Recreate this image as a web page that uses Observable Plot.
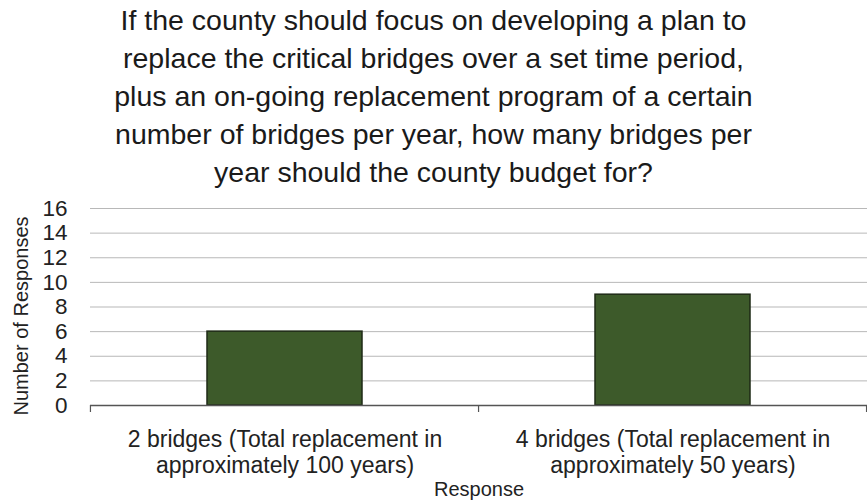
<!DOCTYPE html>
<html><head><meta charset="utf-8">
<script src="https://cdn.jsdelivr.net/npm/d3@7"></script>
<script src="https://cdn.jsdelivr.net/npm/@observablehq/plot@0.6"></script>
<style>
body{margin:0;background:#fff;font-family:"Liberation Sans",Arial,sans-serif;}
#title{width:867px;height:195px;box-sizing:border-box;padding-top:1px;text-align:center;font-size:28.5px;line-height:38px;color:#1a1a1a;}
</style></head><body>
<div id="title">If the county should focus on developing a plan to<br>replace the critical bridges over a set time period,<br>plus an on-going replacement program of a certain<br>number of bridges per year, how many bridges per<br>year should the county budget for?</div>
<div id="chart"></div>
<script>
const categories = ["2 bridges (Total replacement in\napproximately 100 years)", "4 bridges (Total replacement in\napproximately 50 years)"];
const responses = [6, 9];
const yTicks = [0, 2, 4, 6, 8, 10, 12, 14, 16];
const yLabel = "Number of Responses";
const xLabel = "Response";

const data = categories.map((c, i) => ({category: c, value: responses[i]}));

function boundaryTicks(index, scales, values, dimensions) {
  const x = scales.x;
  const step = (dimensions.width - dimensions.marginLeft - dimensions.marginRight) / categories.length;
  const bw = typeof x.bandwidth === "function" ? x.bandwidth() : (typeof x.bandwidth === "number" ? x.bandwidth : step * 0.4);
  const y0 = dimensions.height - dimensions.marginBottom;
  const xs = [x(categories[0]) - step * 0.3];
  categories.forEach(c => xs.push(x(c) + bw + step * 0.3));
  const g = d3.create("svg:g").attr("stroke", "#555").attr("stroke-width", 1.2);
  xs.filter(v => isFinite(v)).forEach(v => g.append("line").attr("x1", v).attr("x2", v).attr("y1", y0).attr("y2", y0 + 7));
  return g.node();
}

const chart = Plot.plot({
  width: 867,
  height: 307,
  marginTop: 13,
  marginBottom: 97,
  marginLeft: 90,
  marginRight: 0,
  style: {fontFamily: "'Liberation Sans', Arial, sans-serif", color: "#222", background: "#fff"},
  x: {domain: categories, paddingInner: 0.6, paddingOuter: 0.3, label: null},
  y: {domain: [0, 16], ticks: yTicks, label: null},
  marks: [
    Plot.gridY(yTicks.filter(d => d > 0), {stroke: "#999", strokeOpacity: 1, strokeWidth: 0.7}),
    Plot.barY(data, {x: "category", y: "value", fill: "#3d5a2a", stroke: "#1e2a16", strokeWidth: 1.5}),
    Plot.ruleY([0], {stroke: "#555", strokeWidth: 1.3}),
    boundaryTicks,
    Plot.axisY(yTicks, {tickSize: 0, tickPadding: 23, fontSize: 22.5, label: null}),
    Plot.axisX({tickSize: 0, tickPadding: 23, fontSize: 23, lineHeight: 1.14, label: null}),
    Plot.text([yLabel], {frameAnchor: "left", dx: -69, dy: 9, rotate: -90, fontSize: 20, textAnchor: "middle", fill: "#222"}),
    Plot.text([xLabel], {frameAnchor: "bottom", dy: 90, fontSize: 20, fill: "#222"})
  ]
});
document.getElementById("chart").appendChild(chart);
</script>
</body></html>
